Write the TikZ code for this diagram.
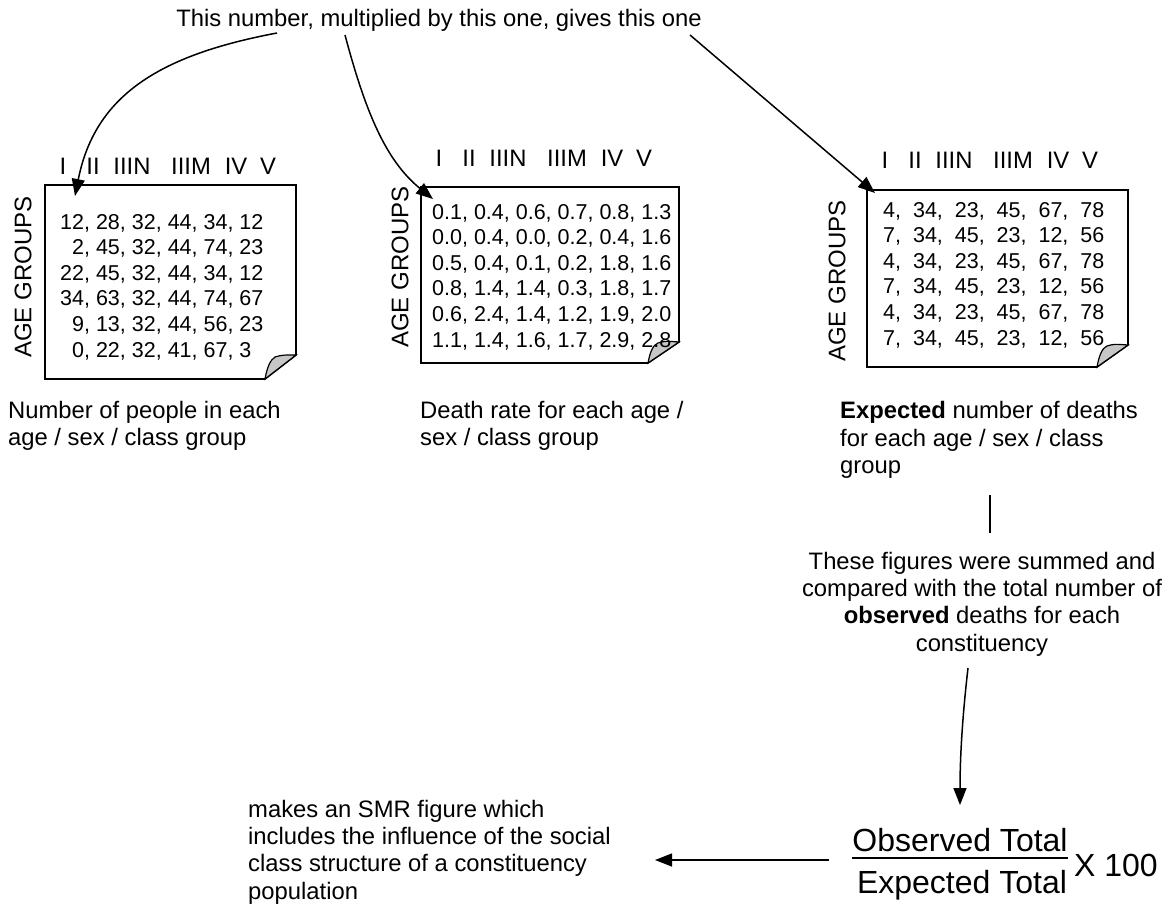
\documentclass[tikz,border=0pt]{standalone}
\usepackage{fontspec}
\setmainfont{Liberation Sans}
\usetikzlibrary{arrows.meta}
\begin{document}
\begin{tikzpicture}[x=1pt,y=-1pt,
  arr/.style={line width=1.5pt,-{Triangle[length=17pt,width=13pt]}},
  body/.style={font=\fontsize{23.8}{27.4}\selectfont, inner sep=0pt},
  big/.style={font=\fontsize{32}{36}\selectfont, inner sep=0pt},
  cell/.style={font=\fontsize{21.5}{25.6}\selectfont, inner sep=0pt, align=left, anchor=west},
  sidelabel/.style={font=\fontsize{24}{28}\selectfont, inner sep=0pt, rotate=90},
  sheet/.style={line width=1.6pt, fill=white},
  curl/.style={line width=1.2pt, fill=black!22}
]
\useasboundingbox (0,0) rectangle (1173,905);

% top caption
\node[body] (top) at (439,20) {This number, multiplied by this one, gives this one};
\coordinate (fromA) at (277,33);
\coordinate (fromB) at (345,35);
\coordinate (fromC) at (690,35);

% sheet 1 : population
\draw[sheet] (45,185) -- (296,185) -- (296,355) -- (265,379) -- (45,379) -- cycle;
\draw[curl] (265,379) .. controls (267,368) and (270,360) .. (275,357) .. controls (282,355) .. (296,355) -- cycle;
\coordinate (inA) at (75,196);
% sheet 2 : death rates
\draw[sheet] (421,187) -- (679,187) -- (679,342) -- (648,363) -- (421,363) -- cycle;
\draw[curl] (648,363) .. controls (650,352) and (653,345) .. (658,343) .. controls (665,341) .. (679,342) -- cycle;
\coordinate (inB) at (433,199);
% sheet 3 : expected deaths
\draw[sheet] (867,190) -- (1128,190) -- (1128,345) -- (1097,367) -- (867,367) -- cycle;
\draw[curl] (1097,367) .. controls (1099,356) and (1102,348) .. (1107,346) .. controls (1114,344) .. (1128,345) -- cycle;
\coordinate (inC) at (875,193);

% class headings above each sheet
\foreach \s/\bx/\hy in {a/45/166, b/421/158, c/867/160}{
  \foreach \k/\dx/\lab in {1/18/I, 2/48/II, 3/87/IIIN, 4/146/IIIM, 5/191/IV, 6/223/V}{
    \node[body] (h\s\k) at (\bx+\dx,\hy) {\lab};
  }
}

% side labels
\node[sidelabel] (ageA) at (23,277) {AGE GROUPS};
\node[sidelabel] (ageB) at (400,267) {AGE GROUPS};
\node[sidelabel] (ageC) at (837,281) {AGE GROUPS};

% table contents
\node[cell] (tabA) at (60,287) {12, 28, 32, 44, 34, 12\\
\phantom{1}2, 45, 32, 44, 74, 23\\
22, 45, 32, 44, 34, 12\\
34, 63, 32, 44, 74, 67\\
\phantom{1}9, 13, 32, 44, 56, 23\\
\phantom{1}0, 22, 32, 41, 67, 3};
\node[cell] (tabB) at (432,277) {0.1, 0.4, 0.6, 0.7, 0.8, 1.3\\
0.0, 0.4, 0.0, 0.2, 0.4, 1.6\\
0.5, 0.4, 0.1, 0.2, 1.8, 1.6\\
0.8, 1.4, 1.4, 0.3, 1.8, 1.7\\
0.6, 2.4, 1.4, 1.2, 1.9, 2.0\\
1.1, 1.4, 1.6, 1.7, 2.9, 2.8};
\node[cell] (tabC) at (883,275) {4,\ \ 34,\ \ 23,\ \ 45,\ \ 67,\ \ 78\\
7,\ \ 34,\ \ 45,\ \ 23,\ \ 12,\ \ 56\\
4,\ \ 34,\ \ 23,\ \ 45,\ \ 67,\ \ 78\\
7,\ \ 34,\ \ 45,\ \ 23,\ \ 12,\ \ 56\\
4,\ \ 34,\ \ 23,\ \ 45,\ \ 67,\ \ 78\\
7,\ \ 34,\ \ 45,\ \ 23,\ \ 12,\ \ 56};

% captions under the sheets
\node[body, align=left, anchor=west] (capA) at (8,426) {Number of people in each\\age / sex / class group};
\node[body, align=left, anchor=west] (capB) at (420,426) {Death rate for each age /\\sex / class group};
\node[body, align=left, anchor=west] (capC) at (840,440) {\textbf{Expected} number of deaths\\for each age / sex / class\\group};

% summing step
\coordinate (tickTop) at (990,495);
\coordinate (tickBot) at (990,533);
\draw[line width=1.5pt] (tickTop) -- (tickBot);
\node[body, align=center] (sum) at (982,604) {These figures were summed and\\compared with the total number of\\\textbf{observed} deaths for each\\constituency};

% SMR ratio
\node[big] (obs) at (960,840) {Observed Total};
\node[big] (exp) at (962,885) {Expected Total};
\node[big] (x100) at (1116,865) {X 100};
\draw[line width=2pt] (852,858) -- (1068,858);

% result text
\node[body, align=left, anchor=west] (res) at (248,852) {makes an SMR figure which\\includes the influence of the social\\class structure of a constituency\\population};

% connectors
\draw[arr] (fromA) .. controls (160,55) and (95,95) .. (inA);
\draw[arr] (fromB) .. controls (365,110) and (385,160) .. (inB);
\draw[arr] (fromC) -- (inC);
\draw[arr] (968,668) .. controls (962,720) and (960,760) .. (960,805);
\draw[arr] (829,860) -- (655,860);
\end{tikzpicture}
\end{document}
